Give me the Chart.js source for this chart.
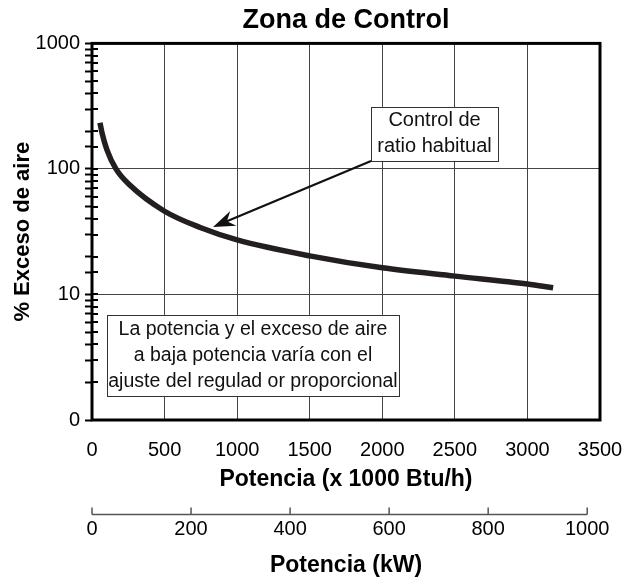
<!DOCTYPE html>
<html>
<head>
<meta charset="utf-8">
<script src="https://cdn.jsdelivr.net/npm/chart.js@4.4.1/dist/chart.umd.min.js"></script>
<style>
  html, body { margin: 0; padding: 0; background: #fff; }
  #wrap { width: 630px; height: 583px; }
</style>
</head>
<body>
<div id="wrap"><canvas id="zoneChart"></canvas></div>
<script>
// curve: x in 1000 Btu/h, y in % excess air
const potenciaBtu = [55, 69, 103, 165, 262, 500, 750, 1000, 1500, 2000, 2500, 3000, 3177];
const excesoAire  = [233, 194, 142, 100, 74, 46, 34, 27.2, 20.3, 16.3, 14.0, 12.1, 11.3];

const btuTicks = [0, 500, 1000, 1500, 2000, 2500, 3000, 3500];
const kwTicks = [0, 200, 400, 600, 800, 1000];
const yTickLabels = { 1: '0', 10: '10', 100: '100', 1000: '1000' };

const BTU_PER_KW = 3.412; // 1 kW = 3.412 x 1000 Btu/h

// notes, anchored in data units (centre of the box)
const notaRatio = { lines: ['Control de', 'ratio habitual'], x: 2360, y: 190 };
const flechaPunta = { x: 834, y: 34.5 };
const notaPotencia = {
    lines: ['La potencia y el exceso de aire', 'a baja potencia varía con el', 'ajuste del regulad or proporcional'],
    x: 1109, y: 3.27
};

const FONT = "'Liberation Sans', Arial, Helvetica, sans-serif";
Chart.defaults.font.family = FONT;
Chart.defaults.color = '#000';

function drawNote(ctx, x, y, note, w, h, size, lineH) {
    const cx = x.getPixelForValue(note.x);
    const cy = y.getPixelForValue(note.y);
    ctx.fillStyle = '#fff';
    ctx.fillRect(cx - w / 2, cy - h / 2, w, h);
    ctx.strokeStyle = '#333';
    ctx.lineWidth = 1;
    ctx.strokeRect(Math.round(cx - w / 2) + 0.5, Math.round(cy - h / 2) + 0.5, w, h);
    ctx.fillStyle = '#111';
    ctx.font = `${size}px ${FONT}`;
    ctx.textAlign = 'center';
    ctx.textBaseline = 'middle';
    const n = note.lines.length;
    note.lines.forEach((t, i) => {
        ctx.fillText(t, cx, cy + (i - (n - 1) / 2) * lineH);
    });
    return { left: cx - w / 2, right: cx + w / 2, top: cy - h / 2, bottom: cy + h / 2 };
}

const decoPlugin = {
    id: 'deco',
    afterDatasetsDraw(chart) {
        const { ctx, chartArea: a, scales: { x, y, x2 } } = chart;
        ctx.save();

        // inner half of the y tick marks
        ctx.strokeStyle = '#000';
        ctx.lineWidth = 2;
        y.ticks.forEach(t => {
            const py = Math.round(y.getPixelForValue(t.value));
            ctx.beginPath();
            ctx.moveTo(a.left, py);
            ctx.lineTo(a.left + 6, py);
            ctx.stroke();
        });

        // heavy frame
        ctx.lineWidth = 3;
        ctx.strokeRect(a.left, a.top, a.right - a.left, a.bottom - a.top);

        // kW axis line with ticks pointing up
        const ly = Math.round(x2.top) + 6.5;
        ctx.strokeStyle = '#555';
        ctx.lineWidth = 1.5;
        ctx.beginPath();
        ctx.moveTo(x2.getPixelForValue(kwTicks[0]), ly);
        ctx.lineTo(x2.getPixelForValue(kwTicks[kwTicks.length - 1]), ly);
        kwTicks.forEach(v => {
            const px = x2.getPixelForValue(v);
            ctx.moveTo(px, ly);
            ctx.lineTo(px, ly - 7);
        });
        ctx.stroke();

        // notes
        const b1 = drawNote(ctx, x, y, notaRatio, 127, 54, 20, 26);
        drawNote(ctx, x, y, notaPotencia, 292, 81, 19.5, 26);

        // arrow from the note to the curve
        const tx = x.getPixelForValue(flechaPunta.x);
        const ty = y.getPixelForValue(flechaPunta.y);
        const sx = b1.left, sy = b1.bottom;
        const ang = Math.atan2(ty - sy, tx - sx);
        const len = 22, half = 8, notch = 15;
        const bx = tx - Math.cos(ang) * notch, by = ty - Math.sin(ang) * notch;
        ctx.strokeStyle = '#111';
        ctx.lineWidth = 2.2;
        ctx.beginPath();
        ctx.moveTo(sx, sy);
        ctx.lineTo(bx, by);
        ctx.stroke();
        const ex = tx - Math.cos(ang) * len, ey = ty - Math.sin(ang) * len;
        ctx.fillStyle = '#111';
        ctx.beginPath();
        ctx.moveTo(tx, ty);
        ctx.lineTo(ex - Math.sin(ang) * half, ey + Math.cos(ang) * half);
        ctx.lineTo(bx, by);
        ctx.lineTo(ex + Math.sin(ang) * half, ey - Math.cos(ang) * half);
        ctx.closePath();
        ctx.fill();

        ctx.restore();
    }
};

new Chart(document.getElementById('zoneChart'), {
    type: 'line',
    data: {
        datasets: [{
            data: potenciaBtu.map((v, i) => ({ x: v, y: excesoAire[i] })),
            borderColor: '#231f20',
            borderWidth: 5.5,
            pointRadius: 0,
            cubicInterpolationMode: 'monotone',
            fill: false
        }]
    },
    options: {
        responsive: true,
        maintainAspectRatio: false,
        animation: false,
        layout: { padding: { top: 0, right: 30, bottom: 0, left: 0 } },
        plugins: {
            legend: { display: false },
            tooltip: { enabled: false },
            title: {
                display: true,
                fullSize: false,
                text: 'Zona de Control',
                color: '#000',
                font: { size: 27, weight: 'bold' },
                padding: { top: 4, bottom: 7 }
            }
        },
        scales: {
            x: {
                type: 'linear',
                position: 'bottom',
                min: 0,
                max: 3500,
                afterBuildTicks: s => { s.ticks = btuTicks.map(v => ({ value: v })); },
                afterFit: s => { s.paddingRight = 0; },
                grid: { color: '#444', lineWidth: 1, drawTicks: false },
                border: { display: false },
                ticks: { padding: 18, font: { size: 20 }, maxRotation: 0, autoSkip: false, callback: v => String(v) },
                title: {
                    display: true,
                    text: 'Potencia (x 1000 Btu/h)',
                    font: { size: 23, weight: 'bold' },
                    padding: { top: -14, bottom: 14 }
                }
            },
            x2: {
                type: 'linear',
                position: 'bottom',
                min: 0,
                max: 3500 / BTU_PER_KW,
                afterBuildTicks: s => { s.ticks = kwTicks.map(v => ({ value: v })); },
                afterFit: s => { s.paddingRight = 0; },
                grid: { display: false, drawTicks: false },
                border: { display: false },
                ticks: { padding: 10, font: { size: 20 }, maxRotation: 0, autoSkip: false, callback: v => String(v) },
                title: {
                    display: true,
                    text: 'Potencia (kW)',
                    font: { size: 23, weight: 'bold' },
                    padding: { top: 0.6, bottom: 3.2 }
                }
            },
            y: {
                type: 'logarithmic',
                min: 1,
                max: 1000,
                afterFit: s => { s.width = 92; },
                grid: {
                    color: c => (c.tick && (c.tick.value === 10 || c.tick.value === 100)) ? '#444' : 'rgba(0,0,0,0)',
                    tickColor: '#000',
                    tickWidth: 2,
                    tickLength: 7
                },
                border: { display: false },
                ticks: {
                    autoSkip: false,
                    padding: 5,
                    font: { size: 20 },
                    callback: v => yTickLabels[v] || ''
                },
                title: {
                    display: true,
                    text: '% Exceso de aire',
                    font: { size: 22, weight: 'bold' },
                    padding: { top: 10, bottom: 0 }
                }
            }
        }
    },
    plugins: [decoPlugin]
});
</script>
</body>
</html>
